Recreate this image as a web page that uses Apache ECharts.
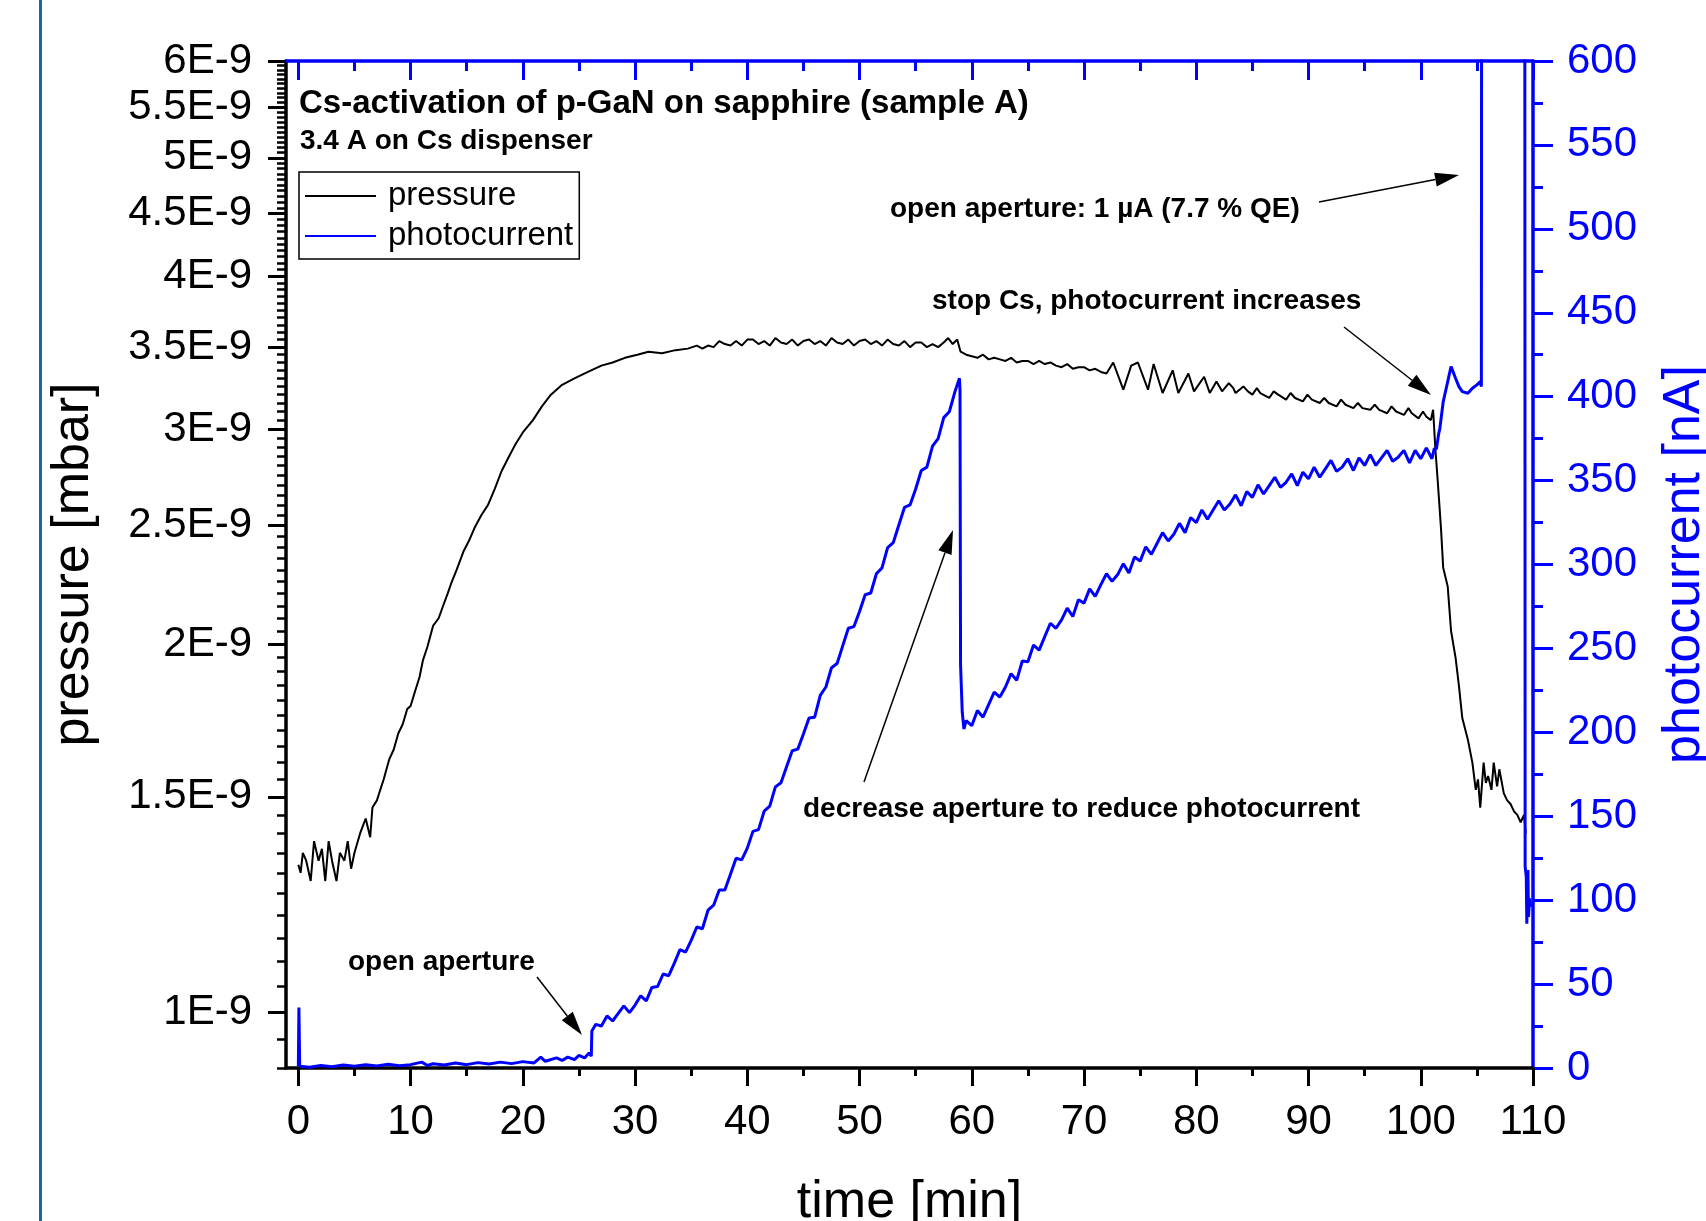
<!DOCTYPE html>
<html>
<head>
<meta charset="utf-8">
<title>Cs-activation of p-GaN</title>
<script src="https://cdn.jsdelivr.net/npm/echarts@6/dist/echarts.min.js"></script>
<style>
  html, body { margin: 0; padding: 0; background: #fff; }
  #main { width: 1706px; height: 1221px; }
</style>
</head>
<body>
<div id="main"></div>
<script>
// tick values
const xMajorTicks = [0, 10, 20, 30, 40, 50, 60, 70, 80, 90, 100, 110];
const xMinorTicks = [5, 15, 25, 35, 45, 55, 65, 75, 85, 95, 105];
const pressureTicks = [1, 1.5, 2, 2.5, 3, 3.5, 4, 4.5, 5, 5.5, 6]; // x 1E-9 mbar
const pressureMinorTicks = [];
for (let k = 18; k <= 120; k++) pressureMinorTicks.push(k / 20);

// [time min, pressure in 1E-9 mbar]
const pressure = [
  [0, 1.32], [0.2, 1.30], [0.4, 1.35], [0.7, 1.33], [1.1, 1.28], [1.4, 1.38], [1.8, 1.33], [2.1, 1.36],
  [2.4, 1.28], [2.7, 1.38], [3.0, 1.33], [3.4, 1.28], [3.7, 1.35], [4.1, 1.33], [4.4, 1.38], [4.7, 1.31],
  [5.0, 1.35], [5.5, 1.40], [6.0, 1.44], [6.4, 1.39], [6.6, 1.47], [7.0, 1.49], [7.3, 1.52], [7.6, 1.55],
  [8.1, 1.61], [8.5, 1.64], [8.9, 1.69], [9.3, 1.72], [9.7, 1.77], [10.0, 1.78], [10.4, 1.83], [10.8, 1.88],
  [11.1, 1.94], [11.5, 1.99], [12.0, 2.07], [12.5, 2.10], [12.9, 2.15], [13.3, 2.20], [13.6, 2.24], [14.1, 2.30],
  [14.7, 2.38], [15.2, 2.43], [15.7, 2.49], [16.3, 2.55], [16.9, 2.60], [17.5, 2.68], [18.1, 2.77], [18.7, 2.84],
  [19.3, 2.91], [20.0, 2.98], [20.9, 3.05], [21.7, 3.13], [22.5, 3.20], [23.5, 3.26], [24.6, 3.30], [25.8, 3.34],
  [27.0, 3.38], [28.0, 3.40], [29.1, 3.43], [30.2, 3.45], [31.2, 3.47], [32.4, 3.46], [33.6, 3.48], [34.7, 3.49],
  [35.5, 3.51], [36, 3.49], [36.5, 3.51], [37, 3.50], [37.5, 3.54], [38, 3.52], [38.5, 3.51], [39, 3.54],
  [39.5, 3.51], [40, 3.55], [40.5, 3.55], [41, 3.52], [41.5, 3.54], [42, 3.51], [42.5, 3.56], [43, 3.53],
  [43.5, 3.52], [44, 3.55], [44.5, 3.51], [45, 3.54], [45.5, 3.55], [46, 3.52], [46.5, 3.54], [47, 3.51],
  [47.5, 3.56], [48, 3.53], [48.5, 3.52], [49, 3.55], [49.5, 3.51], [50, 3.54], [50.5, 3.55], [51, 3.52],
  [51.5, 3.54], [52, 3.51], [52.5, 3.55], [53, 3.52], [53.5, 3.51], [54, 3.54], [54.5, 3.50], [55, 3.53],
  [55.5, 3.53], [56, 3.50], [56.5, 3.52], [57, 3.50], [57.5, 3.53], [57.9, 3.56], [58.3, 3.52], [58.7, 3.55],
  [59.0, 3.47], [59.5, 3.45], [60, 3.44], [60.5, 3.43], [61, 3.45], [61.5, 3.42], [62, 3.43], [62.5, 3.42],
  [63, 3.41], [63.5, 3.43], [64, 3.40], [64.5, 3.41], [65, 3.41], [65.5, 3.39], [66, 3.41], [66.5, 3.39],
  [67, 3.40], [67.5, 3.38], [68, 3.37], [68.5, 3.39], [69, 3.36], [69.5, 3.37], [70, 3.37], [70.5, 3.35],
  [71, 3.36], [71.5, 3.34], [72, 3.33], [72.6, 3.40], [73.5, 3.23], [74.2, 3.38], [74.8, 3.40], [75.7, 3.23],
  [76.2, 3.39], [77.0, 3.21], [77.9, 3.35], [78.4, 3.21], [79.3, 3.33], [79.8, 3.22], [80.7, 3.31], [81.2, 3.21],
  [81.8, 3.28], [82.3, 3.22], [82.9, 3.27], [83.3, 3.24], [83.5, 3.21], [84.2, 3.25], [84.6, 3.22], [85.0, 3.20],
  [85.4, 3.24], [85.7, 3.21], [86.5, 3.18], [86.9, 3.22], [87.3, 3.20], [88.0, 3.17], [88.4, 3.21], [88.8, 3.18],
  [89.5, 3.16], [89.9, 3.20], [90.3, 3.17], [91.0, 3.15], [91.4, 3.18], [91.8, 3.15], [92.5, 3.13], [92.9, 3.17],
  [93.3, 3.14], [94.0, 3.12], [94.4, 3.15], [94.8, 3.12], [95.5, 3.11], [95.9, 3.14], [96.3, 3.11], [97.0, 3.09],
  [97.4, 3.13], [97.8, 3.10], [98.5, 3.08], [98.9, 3.12], [99.2, 3.09], [99.8, 3.06], [100.2, 3.10], [100.5, 3.07],
  [100.9, 3.05], [101.1, 3.11], [101.3, 2.89], [101.5, 2.73], [101.8, 2.49], [102.0, 2.31], [102.4, 2.23], [102.7, 2.05],
  [103.1, 1.95], [103.4, 1.85], [103.7, 1.74], [104.2, 1.67], [104.6, 1.60], [104.9, 1.52], [105.1, 1.55], [105.3, 1.47],
  [105.6, 1.60], [105.8, 1.54], [106.0, 1.56], [106.3, 1.52], [106.5, 1.60], [106.8, 1.53], [107.0, 1.58], [107.4, 1.51],
  [107.7, 1.49], [108.0, 1.48], [108.3, 1.46], [108.6, 1.45], [108.9, 1.43], [109.2, 1.45], [109.35, 1.40]
];

// [time min, photocurrent nA]
const photocurrent = [
  [0, 1], [0.05, 36], [0.12, 1], [1, 0.5], [2, 1.5], [3, 0.8], [4, 1.8], [5, 1], [6, 2], [7, 1.2], [8, 2.2],
  [9, 1.4], [10, 2], [11, 3.5], [11.5, 1.5], [12, 2.5], [13, 1.8], [14, 3], [15, 2], [16, 3.2], [17, 2.4],
  [18, 3.5], [19, 2.6], [20, 3.8], [21, 3], [21.6, 6.5], [22, 4], [23, 6], [23.5, 4.5], [24, 6.5], [24.6, 5],
  [25, 7.5], [25.5, 6], [25.9, 9], [26.1, 7], [26.15, 22], [26.5, 26], [27, 25], [27.5, 31], [28, 28],
  [28.5, 32.5], [29, 37], [29.5, 33], [30, 37.5], [30.5, 43], [31, 40], [31.5, 48], [32, 48.5], [32.5, 56],
  [33, 55], [33.5, 62.5], [34, 70.5], [34.5, 69], [35, 76], [35.5, 84], [36, 83], [36.5, 94], [37, 97],
  [37.5, 106], [38, 106], [38.5, 115.5], [39, 125], [39.5, 124], [40, 131], [40.5, 141], [41, 142], [41.5, 153],
  [42, 156], [42.5, 167.5], [43, 170], [43.5, 179.5], [44, 189], [44.5, 190], [45, 199], [45.5, 208.5], [46, 209],
  [46.5, 222], [47, 227], [47.5, 238.5], [48, 241], [48.5, 251.5], [49, 262], [49.5, 263], [50, 272], [50.5, 282],
  [51, 283], [51.5, 294.5], [52, 298], [52.5, 310], [53, 313], [53.5, 323.5], [54, 334], [54.5, 335.5], [55, 345],
  [55.5, 356], [56, 358], [56.5, 370.5], [57, 375], [57.5, 387.5], [58, 391], [58.5, 403], [58.9, 411],
  [58.95, 404], [59.0, 240], [59.15, 212], [59.3, 202], [59.5, 207], [60, 204], [60.5, 213], [61, 209],
  [61.5, 216.5], [62, 224], [62.5, 221], [63, 227], [63.5, 235], [64, 231], [64.5, 242.5], [65, 242], [65.5, 252],
  [66, 249], [66.5, 257], [67, 265], [67.5, 262], [68, 267], [68.5, 274], [69, 269], [69.5, 279], [70, 277],
  [70.5, 285.5], [71, 281], [71.5, 288], [72, 294.5], [72.5, 290], [73, 294], [73.5, 300.5], [74, 295],
  [74.5, 304.5], [75, 302], [75.5, 310.5], [76, 306], [76.5, 312.5], [77, 319], [77.5, 314], [78, 318],
  [78.5, 324.5], [79, 319], [79.5, 328], [80, 325], [80.5, 332.5], [81, 327], [81.5, 332.5], [82, 338],
  [82.5, 332.5], [83, 336], [83.5, 341.5], [84, 335], [84.5, 343.5], [85, 340], [85.5, 347.5], [86, 342],
  [86.5, 347], [87, 352], [87.5, 346], [88, 349], [88.5, 354], [89, 347], [89.5, 355], [90, 351], [90.5, 358],
  [91, 352], [91.5, 357], [92, 362], [92.5, 355.5], [93, 358], [93.5, 363], [94, 356], [94.5, 363.5], [95, 359],
  [95.5, 365.5], [96, 359], [96.5, 363.5], [97, 368], [97.5, 361.5], [98, 364], [98.5, 368], [99, 360.5],
  [99.5, 368], [100, 363], [100.5, 369.5], [101, 363], [101.2, 369], [101.4, 369], [101.6, 378], [101.7, 381],
  [102, 397], [102.4, 409], [102.7, 418], [103.1, 411], [103.4, 406], [103.7, 403], [104.2, 402], [104.6, 405],
  [105, 407], [105.3, 409], [105.4, 406], [105.45, 1000], [109.25, 1000], [109.3, 120], [109.4, 114],
  [109.45, 86], [109.55, 118], [109.6, 90], [109.7, 101], [109.8, 96]
];

const FONT = '"Liberation Sans", Arial, sans-serif';
const BLUE = '#0000ff';

function arrow(x1, y1, x2, y2) {
  const a = Math.atan2(y2 - y1, x2 - x1);
  const len = 24;
  const half = 7;
  const bx = x2 - len * Math.cos(a);
  const by = y2 - len * Math.sin(a);
  const nx = -Math.sin(a) * half;
  const ny = Math.cos(a) * half;
  return [
    { type: 'line', shape: { x1: x1, y1: y1, x2: bx, y2: by }, style: { stroke: '#000', lineWidth: 1.5 } },
    { type: 'polygon', shape: { points: [[x2, y2], [bx + nx, by + ny], [bx - nx, by - ny]] }, style: { fill: '#000' } }
  ];
}

function note(text, x, y, size, weight) {
  return {
    type: 'text', x: x, y: y,
    style: { text: text, fontSize: size, fontWeight: weight || 'bold', fontFamily: FONT, fill: '#000', align: 'left', verticalAlign: 'middle' }
  };
}

const xBase = { type: 'value', min: -1.1, max: 110, splitLine: { show: false } };

const chart = echarts.init(document.getElementById('main'));

chart.setOption({
  animation: false,
  backgroundColor: '#fff',
  grid: { left: 286, right: 173, top: 61, bottom: 153, containLabel: false, outerBoundsMode: 'none' },
  legend: {
    left: 299,
    top: 172,
    orient: 'vertical',
    selectedMode: false,
    icon: 'rect',
    itemWidth: 71,
    itemHeight: 2,
    itemGap: 4,
    padding: [6, 6, 5, 6],
    borderColor: '#000',
    borderWidth: 1.5,
    textStyle: { fontSize: 33, lineHeight: 36, color: '#000', fontFamily: FONT, padding: [0, 0, 0, 7] },
    data: [
      { name: 'pressure', itemStyle: { color: '#000' } },
      { name: 'photocurrent', itemStyle: { color: BLUE } }
    ]
  },
  xAxis: [
    {
      ...xBase,
      position: 'bottom',
      axisLine: { onZero: false, lineStyle: { color: '#000', width: 3.5 } },
      axisTick: { customValues: xMajorTicks, length: 18, lineStyle: { color: '#000', width: 3 } },
      axisLabel: { customValues: xMajorTicks, margin: 33, fontSize: 42, color: '#000', fontFamily: FONT },
      name: 'time [min]',
      nameLocation: 'middle',
      nameGap: 109,
      nameTextStyle: { fontSize: 52, color: '#000', fontFamily: FONT }
    },
    {
      ...xBase,
      position: 'bottom',
      axisLine: { show: false, onZero: false },
      axisTick: { customValues: xMinorTicks, length: 8, lineStyle: { color: '#000', width: 3 } },
      axisLabel: { show: false }
    },
    {
      ...xBase,
      position: 'top',
      axisLine: { onZero: false, lineStyle: { color: BLUE, width: 3.5 } },
      axisTick: { inside: true, customValues: xMajorTicks, length: 19, lineStyle: { color: BLUE, width: 3 } },
      axisLabel: { show: false }
    },
    {
      ...xBase,
      position: 'top',
      axisLine: { show: false, onZero: false },
      axisTick: { inside: true, customValues: xMinorTicks, length: 10, lineStyle: { color: BLUE, width: 3 } },
      axisLabel: { show: false }
    }
  ],
  yAxis: [
    {
      type: 'log',
      logBase: 10,
      min: 0.9,
      max: 6,
      position: 'left',
      axisLine: { onZero: false, lineStyle: { color: '#000', width: 3.5 } },
      axisTick: { customValues: pressureTicks, length: 18, lineStyle: { color: '#000', width: 3 } },
      axisLabel: {
        customValues: pressureTicks,
        margin: 34,
        fontSize: 42,
        color: '#000',
        fontFamily: FONT,
        formatter: (v) => Math.round(v * 10) / 10 + 'E-9'
      },
      splitLine: { show: false },
      name: 'pressure [mbar]',
      nameLocation: 'middle',
      nameRotate: 90,
      nameGap: 186,
      nameTextStyle: { fontSize: 52, color: '#000', fontFamily: FONT }
    },
    {
      type: 'log',
      logBase: 10,
      min: 0.9,
      max: 6,
      position: 'left',
      axisLine: { show: false, onZero: false },
      axisTick: { customValues: pressureMinorTicks, length: 9, lineStyle: { color: '#000', width: 2.5 } },
      axisLabel: { show: false },
      splitLine: { show: false }
    },
    {
      type: 'value',
      min: 0,
      max: 600,
      interval: 50,
      position: 'right',
      axisLine: { onZero: false, lineStyle: { color: BLUE, width: 3.5 } },
      axisTick: { length: 20, lineStyle: { color: BLUE, width: 3 } },
      minorTick: { show: true, splitNumber: 2, length: 10, lineStyle: { color: BLUE, width: 3 } },
      axisLabel: { margin: 34, fontSize: 42, color: BLUE, fontFamily: FONT },
      splitLine: { show: false },
      minorSplitLine: { show: false },
      name: 'photocurrent [nA]',
      nameLocation: 'middle',
      nameRotate: 90,
      nameGap: 126,
      nameTextStyle: { fontSize: 52, color: BLUE, fontFamily: FONT }
    }
  ],
  series: [
    {
      name: 'pressure',
      type: 'line',
      xAxisIndex: 0,
      yAxisIndex: 0,
      data: pressure,
      symbol: 'none',
      color: '#000',
      lineStyle: { color: '#000', width: 2 },
      z: 3
    },
    {
      name: 'photocurrent',
      type: 'line',
      xAxisIndex: 0,
      yAxisIndex: 2,
      data: photocurrent,
      symbol: 'none',
      color: BLUE,
      lineStyle: { color: BLUE, width: 3 },
      z: 4
    }
  ],
  graphic: [
    { type: 'rect', shape: { x: 39, y: 0, width: 3, height: 1221 }, style: { fill: '#1f63ad' } },
    note('Cs-activation of p-GaN on sapphire (sample A)', 299, 104, 33),
    note('3.4 A on Cs dispenser', 300, 141, 28),
    note('open aperture: 1 µA (7.7 % QE)', 890, 209, 28),
    note('stop Cs, photocurrent increases', 932, 301, 28),
    note('decrease aperture to reduce photocurrent', 803, 809, 28),
    note('open aperture', 348, 962, 28),
    ...arrow(1319, 202, 1459, 175),
    ...arrow(1344, 327, 1431, 395),
    ...arrow(864, 782, 953, 530),
    ...arrow(537, 977, 582, 1035)
  ]
});
</script>
</body>
</html>
